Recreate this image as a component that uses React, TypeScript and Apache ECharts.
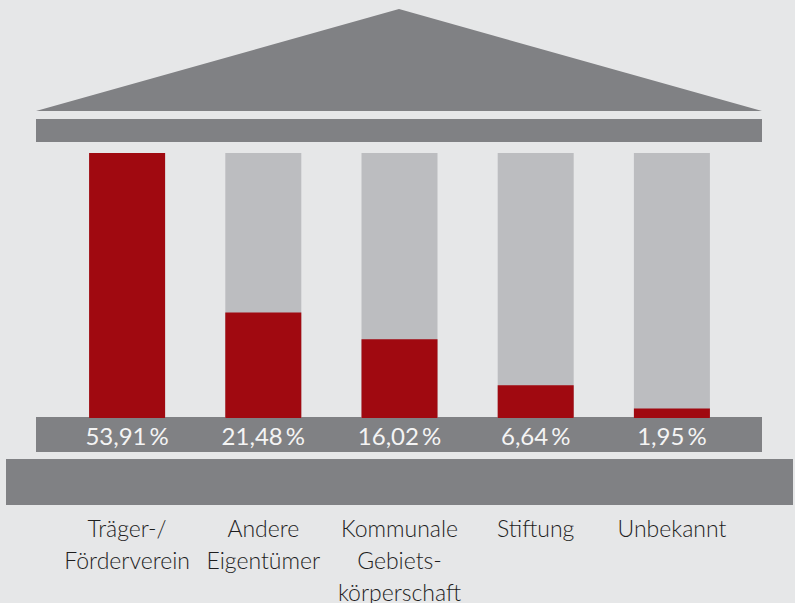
import React, { useEffect, useRef } from "react";
import * as echarts from "echarts";

const categories = [
  "Träger-/\nFörderverein",
  "Andere\nEigentümer",
  "Kommunale\nGebiets-\nkörperschaft",
  "Stiftung",
  "Unbekannt",
];
const values = [53.91, 21.48, 16.02, 6.64, 1.95];
const axisMax = 53.91;

const BG = "#e6e7e8";
const DARK = "#808184";
const LIGHT = "#bcbdc0";
const RED = "#a00910";
const FONT = "Lato, 'Open Sans', sans-serif";

export default function App() {
  const ref = useRef<HTMLDivElement>(null);
  useEffect(() => {
    if (!ref.current) return;
    const chart = echarts.init(ref.current, null, { renderer: "svg" });
    chart.setOption({
      animation: false,
      backgroundColor: BG,
      textStyle: { fontFamily: FONT },
      grid: {
        left: 59,
        top: 153,
        width: 681,
        height: 265,
        outerBoundsMode: "none",
        containLabel: false,
      },
      xAxis: {
        type: "category",
        data: categories,
        axisLine: { show: false },
        axisTick: { show: false },
        axisLabel: {
          margin: 94,
          fontSize: 23,
          fontWeight: 300,
          lineHeight: 32,
          color: "#1e1e1e",
          fontFamily: FONT,
          interval: 0,
        },
      },
      yAxis: {
        type: "value",
        min: 0,
        max: axisMax,
        show: false,
        splitLine: { show: false },
      },
      graphic: [
        {
          type: "polygon",
          z: -10,
          shape: { points: [[36, 111], [399, 9], [762, 111]] },
          style: { fill: DARK },
          silent: true,
        },
        {
          type: "rect",
          z: -10,
          shape: { x: 36, y: 119, width: 726, height: 23 },
          style: { fill: DARK },
          silent: true,
        },
        {
          type: "rect",
          z: -10,
          shape: { x: 36, y: 417, width: 726, height: 35 },
          style: { fill: DARK },
          silent: true,
        },
        {
          type: "rect",
          z: -10,
          shape: { x: 6, y: 459, width: 787, height: 46 },
          style: { fill: DARK },
          silent: true,
        },
      ],
      series: [
        {
          type: "bar",
          data: values,
          barWidth: 76,
          showBackground: true,
          backgroundStyle: { color: LIGHT },
          itemStyle: { color: RED },
          label: {
            show: true,
            position: "bottom",
            distance: 5,
            fontSize: 24,
            color: "#f4f4f4",
            fontFamily: FONT,
            formatter: (p: any) =>
              Number(p.value).toFixed(2).replace(".", ",") + "\u2009%",
          },
        },
      ],
    });
    return () => chart.dispose();
  }, []);
  return (
    <div
      ref={ref}
      style={{ position: "fixed", left: 0, top: 0, width: 795, height: 603 }}
    />
  );
}
